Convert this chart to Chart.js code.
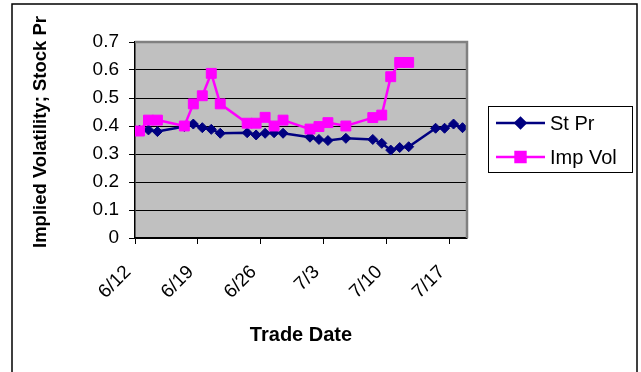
<!DOCTYPE html>
<html>
<head>
<meta charset="utf-8">
<script src="https://cdn.jsdelivr.net/npm/chart.js@4/dist/chart.umd.min.js"></script>
<style>
  html, body { margin: 0; padding: 0; background: #fff; }
  canvas { display: block; }
</style>
</head>
<body>
<canvas id="c" width="641" height="372"></canvas>
<script>
// Trading days (2002) and the two series
const tradeDates = ['6/12','6/13','6/14','6/17','6/18','6/19','6/20','6/21','6/24','6/25','6/26','6/27','6/28',
                    '7/1','7/2','7/3','7/5','7/8','7/9','7/10','7/11','7/12','7/15','7/16','7/17','7/18'];
const stockPrice = [0.385,0.386,0.380,0.398,0.407,0.394,0.388,0.374,0.376,0.368,0.374,0.376,0.374,
                    0.360,0.352,0.348,0.356,0.352,0.338,0.314,0.323,0.326,0.392,0.392,0.407,0.394];
const impliedVol = [0.382,0.421,0.421,0.400,0.479,0.508,0.588,0.479,0.410,0.410,0.431,0.400,0.421,
                    0.389,0.398,0.412,0.400,0.430,0.439,0.576,0.627,0.627];
const xTickLabels = ['6/12','6/19','6/26','7/3','7/10','7/17'];
const yTickLabels = ['0','0.1','0.2','0.3','0.4','0.5','0.6','0.7'];

const YEAR = 2002;
const START = Date.UTC(YEAR, 5, 12);
function dayOffset(md) {
  const [m, d] = md.split('/').map(Number);
  return (Date.UTC(YEAR, m - 1, d) - START) / 864e5;
}
// each day occupies one unit; a value sits in the middle of its day
const toPoints = vals => vals.map((v, i) => ({ x: dayOffset(tradeDates[i]) + 0.5, y: v }));
const xTickDays = xTickLabels.map(dayOffset);

const FONT = '"Liberation Sans", Arial, sans-serif';

const decor = {
  id: 'decor',
  beforeDraw(chart) {
    const { ctx, chartArea: a } = chart;
    ctx.save();
    ctx.fillStyle = '#fff';
    ctx.fillRect(0, 0, chart.width, chart.height);
    ctx.fillStyle = '#c0c0c0';
    ctx.fillRect(a.left, a.top, a.right - a.left, a.bottom - a.top);
    ctx.restore();
  },
  afterDatasetsDraw(chart) {
    const { ctx, chartArea: a } = chart;
    ctx.save();
    // plot frame (top and right)
    ctx.strokeStyle = '#808080';
    ctx.lineWidth = 2.5;
    ctx.beginPath();
    ctx.moveTo(a.left, a.top);
    ctx.lineTo(a.right, a.top);
    ctx.lineTo(a.right, a.bottom);
    ctx.stroke();
    ctx.restore();
  },
  afterDraw(chart) {
    const { ctx, chartArea: a } = chart;
    ctx.save();
    // outer frame
    ctx.strokeStyle = '#000';
    ctx.lineWidth = 1.5;
    ctx.strokeRect(12, 4, 625, 420);

    // axis titles
    ctx.fillStyle = '#000';
    ctx.font = 'bold 20px ' + FONT;
    ctx.textAlign = 'center';
    ctx.textBaseline = 'middle';
    ctx.fillText('Trade Date', (a.left + a.right) / 2, 335);
    ctx.font = 'bold 18.5px ' + FONT;
    ctx.save();
    ctx.translate(41, 132);
    ctx.rotate(-Math.PI / 2);
    ctx.fillText('Implied Volatility; Stock Pr', 0, 0);
    ctx.restore();

    // legend
    ctx.lineWidth = 1;
    ctx.strokeStyle = '#000';
    ctx.strokeRect(488.5, 106.5, 144, 66);
    const items = chart.data.datasets;
    const rows = [123, 157];
    items.forEach((ds, i) => {
      const y = rows[i];
      ctx.strokeStyle = ds.borderColor;
      ctx.lineWidth = ds.borderWidth;
      ctx.beginPath();
      ctx.moveTo(496, y);
      ctx.lineTo(545, y);
      ctx.stroke();
      Chart.helpers.drawPoint(ctx, {
        pointStyle: ds.pointStyle, radius: ds.pointRadius, rotation: 0, borderWidth: 1
      }, 520.5, y);
      ctx.fillStyle = ds.pointBackgroundColor;
      ctx.strokeStyle = ds.pointBorderColor;
      ctx.fill();
      ctx.fillStyle = '#000';
      ctx.font = '20px ' + FONT;
      ctx.textAlign = 'left';
      ctx.textBaseline = 'middle';
      ctx.fillText(ds.label, 550, y + 1);
    });
    ctx.restore();
  }
};

new Chart(document.getElementById('c'), {
  type: 'line',
  data: {
    datasets: [
      {
        label: 'St Pr',
        data: toPoints(stockPrice),
        borderColor: '#000080',
        backgroundColor: '#000080',
        pointBackgroundColor: '#000080',
        pointBorderColor: '#000080',
        borderWidth: 2.5,
        pointStyle: 'rectRot',
        pointRadius: 5,
        pointBorderWidth: 1,
        tension: 0,
        order: 2
      },
      {
        label: 'Imp Vol',
        data: toPoints(impliedVol),
        borderColor: '#ff00ff',
        backgroundColor: '#ff00ff',
        pointBackgroundColor: '#ff00ff',
        pointBorderColor: '#ff00ff',
        borderWidth: 2.5,
        pointStyle: 'rect',
        pointRadius: 7,
        pointBorderWidth: 1,
        tension: 0,
        order: 1
      }
    ]
  },
  options: {
    responsive: false,
    animation: false,
    devicePixelRatio: 1,
    layout: { padding: { top: 42, right: 174, left: 0, bottom: 0 } },
    plugins: { legend: { display: false }, tooltip: { enabled: false } },
    scales: {
      x: {
        type: 'linear',
        min: 0,
        max: 37,
        afterFit(s) { s.height = 134; },
        afterBuildTicks(s) { s.ticks = xTickDays.map(v => ({ value: v })); },
        ticks: {
          autoSkip: false,
          minRotation: 45,
          maxRotation: 45,
          padding: 17,
          labelOffset: -7,
          color: '#000',
          font: { family: FONT, size: 19 },
          callback: v => xTickLabels[xTickDays.indexOf(v)]
        },
        grid: { drawOnChartArea: false, tickLength: 6, color: '#000', lineWidth: 1 },
        border: { color: '#000', width: 1.5 }
      },
      y: {
        min: 0,
        max: 0.7,
        afterFit(s) { s.width = 135; },
        ticks: {
          stepSize: 0.1,
          padding: 10,
          color: '#000',
          font: { family: FONT, size: 19 },
          callback: (v, i) => yTickLabels[i]
        },
        grid: {
          tickLength: 6,
          tickColor: '#000',
          lineWidth: 1,
          color: c => (c.index === yTickLabels.length - 1 ? 'rgba(0,0,0,0)' : '#000')
        },
        border: { color: '#000', width: 1.5 }
      }
    }
  },
  plugins: [decor]
});
</script>
</body>
</html>
